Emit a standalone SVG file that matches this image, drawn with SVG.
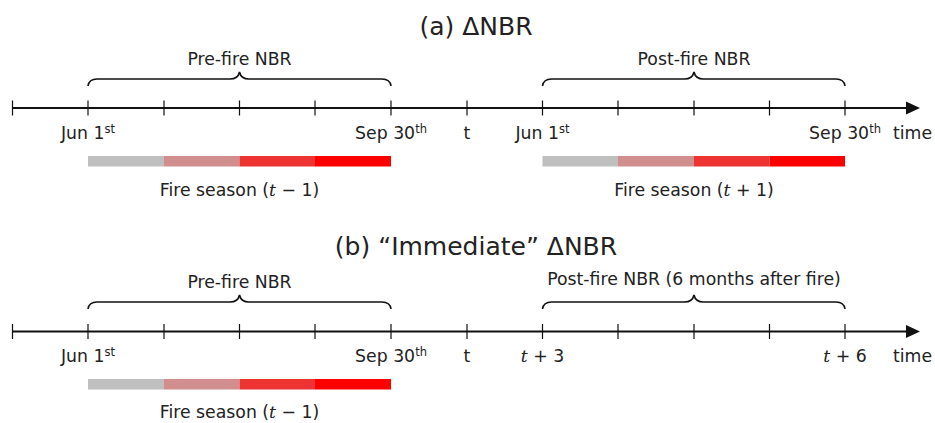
<svg xmlns="http://www.w3.org/2000/svg" width="935" height="423" viewBox="0 0 935 423">
<defs>
<style>
text{font-family:"DejaVu Sans","Liberation Sans",sans-serif;fill:#222;}
.lbl{font-size:17.3px;text-anchor:middle;}
.ttl{font-size:25px;text-anchor:middle;}
.sup{font-size:11.5px;}
.mi{font-family:"DejaVu Serif",serif;font-style:italic;}
.axis{stroke:#111;stroke-width:2;fill:none;}
.tick{stroke:#111;stroke-width:1.2;}
.brace{stroke:#111;stroke-width:1.6;fill:none;}
</style>
<g id="ticks">
<path class="tick" d="M12.5,0v15M88,0v15M164,0v15M239.5,0v15M315,0v15M391,0v15M467,0v15M542.5,0v15M618,0v15M694,0v15M769.5,0v15M845,0v15"/>
</g>
</defs>

<g id="panel-a">
<text class="ttl" x="476" y="35">(a) ΔNBR</text>
<g id="connectors-a">
<line class="axis" x1="12" y1="108" x2="908" y2="108"/>
<path d="M906,101.5 L920,108 L906,114.5 Z" fill="#111"/>
<use href="#ticks" y="100.5"/>
<path class="brace" d="M88,86 Q89,79 97,79 L230,79 Q238,79 239.5,72 Q241,79 249,79 L382,79 Q390,79 391,86"/>
<path class="brace" d="M542.5,86 Q543.5,79 551.5,79 L684.5,79 Q692.5,79 694,72 Q695.5,79 703.5,79 L836,79 Q844,79 845,86"/>
</g>
<g id="a-prefire"><text class="lbl" x="239.5" y="65">Pre-fire NBR</text></g>
<g id="a-postfire"><text class="lbl" x="694" y="65">Post-fire NBR</text></g>
<g id="a-labels">
<text class="lbl" x="88" y="139">Jun 1<tspan class="sup" dy="-6">st</tspan></text>
<text class="lbl" x="391" y="139">Sep 30<tspan class="sup" dy="-6">th</tspan></text>
<text class="lbl" x="467" y="139">t</text>
<text class="lbl" x="542.5" y="139">Jun 1<tspan class="sup" dy="-6">st</tspan></text>
<text class="lbl" x="845" y="139">Sep 30<tspan class="sup" dy="-6">th</tspan></text>
<text class="lbl" x="912.5" y="139">time</text>
</g>
<g id="a-season1">
<rect x="88" y="156" width="76" height="10.5" fill="#bfbfbf"/>
<rect x="164" y="156" width="75.5" height="10.5" fill="#d08e8e"/>
<rect x="239.5" y="156" width="75.5" height="10.5" fill="#ee3333"/>
<rect x="315" y="156" width="76" height="10.5" fill="#ff0000"/>
<text class="lbl" x="239.5" y="196">Fire season (<tspan class="mi">t</tspan> − 1)</text>
</g>
<g id="a-season2">
<rect x="542.5" y="156" width="75.5" height="10.5" fill="#bfbfbf"/>
<rect x="618" y="156" width="76" height="10.5" fill="#d08e8e"/>
<rect x="694" y="156" width="75.5" height="10.5" fill="#ee3333"/>
<rect x="769.5" y="156" width="75.5" height="10.5" fill="#ff0000"/>
<text class="lbl" x="694" y="196">Fire season (<tspan class="mi">t</tspan> + 1)</text>
</g>
</g>

<g id="panel-b">
<text class="ttl" x="476" y="255">(b) “Immediate” ΔNBR</text>
<g id="connectors-b">
<line class="axis" x1="12" y1="331.5" x2="908" y2="331.5"/>
<path d="M906,325 L920,331.5 L906,338 Z" fill="#111"/>
<use href="#ticks" y="324"/>
<path class="brace" d="M88,309 Q89,302 97,302 L230,302 Q238,302 239.5,295 Q241,302 249,302 L382,302 Q390,302 391,309"/>
<path class="brace" d="M542.5,309 Q543.5,302 551.5,302 L684.5,302 Q692.5,302 694,295 Q695.5,302 703.5,302 L836,302 Q844,302 845,309"/>
</g>
<g id="b-prefire"><text class="lbl" x="239.5" y="288">Pre-fire NBR</text></g>
<g id="b-postfire"><text class="lbl" x="694" y="285">Post-fire NBR (6 months after fire)</text></g>
<g id="b-labels">
<text class="lbl" x="88" y="362">Jun 1<tspan class="sup" dy="-6">st</tspan></text>
<text class="lbl" x="391" y="362">Sep 30<tspan class="sup" dy="-6">th</tspan></text>
<text class="lbl" x="467" y="362">t</text>
<text class="lbl" x="542.5" y="362"><tspan class="mi">t</tspan> + 3</text>
<text class="lbl" x="845" y="362"><tspan class="mi">t</tspan> + 6</text>
<text class="lbl" x="912.5" y="362">time</text>
</g>
<g id="b-season1">
<rect x="88" y="379" width="76" height="10.5" fill="#bfbfbf"/>
<rect x="164" y="379" width="75.5" height="10.5" fill="#d08e8e"/>
<rect x="239.5" y="379" width="75.5" height="10.5" fill="#ee3333"/>
<rect x="315" y="379" width="76" height="10.5" fill="#ff0000"/>
<text class="lbl" x="239.5" y="418">Fire season (<tspan class="mi">t</tspan> − 1)</text>
</g>
</g>
</svg>
